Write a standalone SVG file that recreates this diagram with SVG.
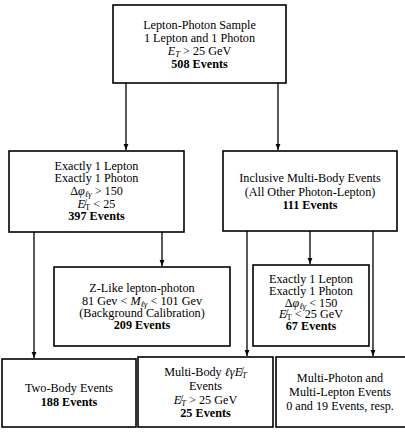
<svg xmlns="http://www.w3.org/2000/svg" width="405" height="433" viewBox="0 0 405 433">
<defs>
<marker id="arr" markerUnits="userSpaceOnUse" markerWidth="6" markerHeight="6" viewBox="0 0 6 6" refX="6" refY="3" orient="auto">
<path d="M0,0.6 L6,3 L0,5.4 Z" fill="#000"/>
</marker>
<style>
.box{fill:#fff;stroke:#000;stroke-width:1.6}
.t{font-size:12.2px;text-anchor:middle;fill:#000}
.b{font-weight:bold}
.i{font-style:italic}
.s{font-size:8.5px}
.c{stroke:#000;stroke-width:1.3;fill:none;marker-end:url(#arr)}
</style>
</defs>
<rect width="405" height="433" fill="#fff"/>
<g id="connectors">
<line class="c" x1="126" y1="83" x2="126" y2="150"/>
<line class="c" x1="278" y1="83" x2="278" y2="150"/>
<line class="c" x1="34" y1="232" x2="34" y2="358"/>
<line class="c" x1="162" y1="232" x2="162" y2="266"/>
<line class="c" x1="247" y1="231" x2="247" y2="356"/>
<line class="c" x1="310" y1="231" x2="310" y2="264"/>
<line class="c" x1="373" y1="231" x2="373" y2="356"/>
</g>
<g font-family="'Liberation Serif', 'DejaVu Serif', serif">
<g id="sample">
<rect class="box" x="113" y="5" width="173" height="78"/>
<text class="t" x="199.5" y="28.5">Lepton-Photon Sample</text>
<text class="t" x="199.5" y="41.5">1 Lepton and 1 Photon</text>
<text class="t" x="199.5" y="54.5"><tspan class="i">E</tspan><tspan class="i s" dy="2">T</tspan><tspan dy="-2"> &gt; 25 GeV</tspan></text>
<text class="t b" x="199.5" y="67.5">508 Events</text>
</g>
<g id="twobody-sel">
<rect class="box" x="9" y="151" width="175" height="81"/>
<text class="t" x="96.5" y="169.5">Exactly 1 Lepton</text>
<text class="t" x="96.5" y="182">Exactly 1 Photon</text>
<text class="t" x="96.5" y="195">Δ<tspan class="i">φ</tspan><tspan class="i s" dy="2">ℓγ</tspan><tspan dy="-2"> &gt; 150</tspan></text>
<text class="t" x="96.5" y="207.5"><tspan class="i">E̸</tspan><tspan class="s" dy="2">T</tspan><tspan dy="-2"> &lt; 25</tspan></text>
<text class="t b" x="96.5" y="220">397 Events</text>
</g>
<g id="multibody-incl">
<rect class="box" x="223" y="151" width="174" height="80"/>
<text class="t" x="310" y="182">Inclusive Multi-Body Events</text>
<text class="t" x="310" y="195.5">(All Other Photon-Lepton)</text>
<text class="t b" x="310" y="209">111 Events</text>
</g>
<g id="zlike">
<rect class="box" x="54" y="267" width="176" height="79"/>
<text class="t" x="142" y="292">Z-Like lepton-photon</text>
<text class="t" x="142" y="304.5">81 Gev &lt; <tspan class="i">M</tspan><tspan class="i s" dy="2">ℓγ</tspan><tspan dy="-2"> &lt; 101 Gev</tspan></text>
<text class="t" x="142" y="317">(Background Calibration)</text>
<text class="t b" x="142" y="329">209 Events</text>
</g>
<g id="multibody-1l1p">
<rect class="box" x="253" y="265" width="116" height="81"/>
<text class="t" x="311" y="283">Exactly 1 Lepton</text>
<text class="t" x="311" y="295">Exactly 1 Photon</text>
<text class="t" x="311" y="306.5">Δ<tspan class="i">φ</tspan><tspan class="i s" dy="2">ℓγ</tspan><tspan dy="-2"> &lt; 150</tspan></text>
<text class="t" x="311" y="318"><tspan class="i">E̸</tspan><tspan class="s" dy="2">T</tspan><tspan dy="-2"> &lt; 25 GeV</tspan></text>
<text class="t b" x="311" y="329.5">67 Events</text>
</g>
<g id="twobody">
<rect class="box" x="2" y="359" width="134" height="68"/>
<text class="t" x="69" y="392">Two-Body Events</text>
<text class="t b" x="69" y="406">188 Events</text>
</g>
<g id="multibody-met">
<rect class="box" x="138" y="357" width="135" height="70"/>
<text class="t" x="205.5" y="376">Multi-Body <tspan class="i">ℓγE̸</tspan><tspan class="i s" dy="2">T</tspan></text>
<text class="t" x="205.5" y="390">Events</text>
<text class="t" x="205.5" y="403.5"><tspan class="i">E̸</tspan><tspan class="i s" dy="2">T</tspan><tspan dy="-2"> &gt; 25 GeV</tspan></text>
<text class="t b" x="205.5" y="417">25 Events</text>
</g>
<g id="multiphoton">
<rect class="box" x="276" y="357" width="132" height="70"/>
<text class="t" x="340" y="382">Multi-Photon and</text>
<text class="t" x="340" y="396">Multi-Lepton Events</text>
<text class="t" x="340" y="409.5">0 and 19 Events, resp.</text>
</g>
</g>
</svg>
